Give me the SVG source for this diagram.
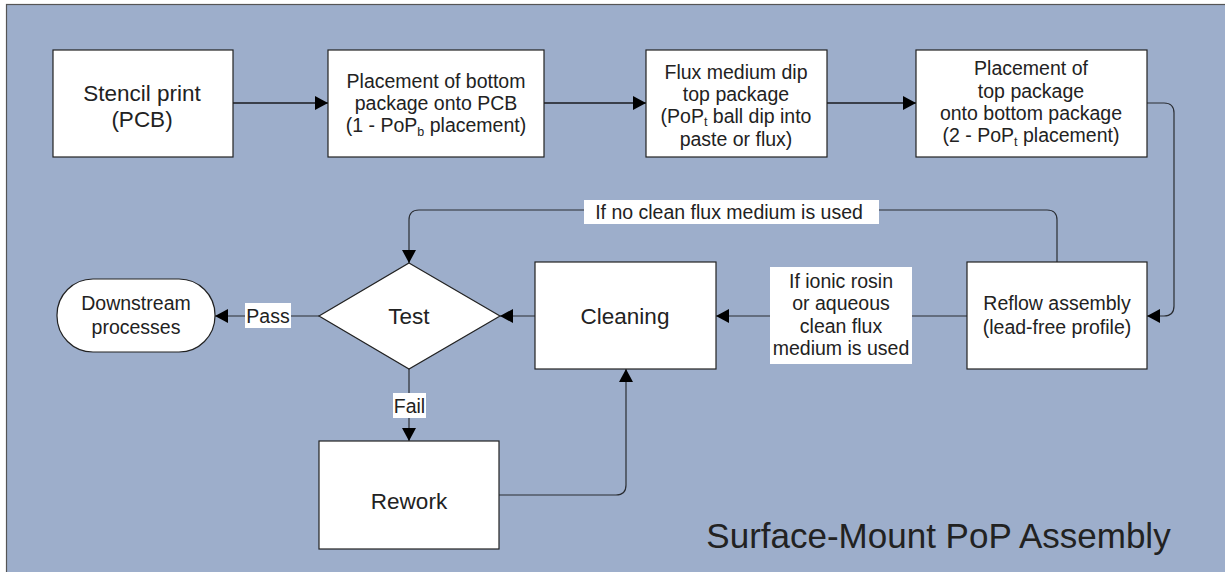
<svg xmlns="http://www.w3.org/2000/svg" width="1225" height="572" viewBox="0 0 1225 572">
<style>
.box{fill:#fff;stroke:#222;stroke-width:1.2}
.t{font-family:"Liberation Sans",Arial,sans-serif;fill:#222;text-anchor:middle}
.s{font-size:19.5px}
.m{font-size:22.5px}
.sub{font-size:12.5px}
.c{fill:none;stroke:#2a2d33;stroke-width:1.2}
.c2{fill:none;stroke:#3a3f4a;stroke-width:2}
.lbl{fill:#fff}
</style>
<defs>
<marker id="ah" markerUnits="userSpaceOnUse" markerWidth="14" markerHeight="14" viewBox="0 0 14 14" refX="13" refY="7" orient="auto">
<path d="M0,0 L13,7 L0,14 Z" fill="#000"/>
</marker>
</defs>
<rect x="0" y="0" width="1225" height="572" fill="#fff"/>
<rect x="6.5" y="4.5" width="1230" height="580" fill="#9daecb" stroke="#555" stroke-width="1.2"/>

<g id="connectors">
<path class="c2" d="M233,103 H328" marker-end="url(#ah)"/>
<path class="c2" d="M544,103 H646" marker-end="url(#ah)"/>
<path class="c2" d="M827,103 H916" marker-end="url(#ah)"/>
<path class="c" d="M1147,103 H1164 Q1174,103 1174,113 V306 Q1174,316 1164,316 H1147" marker-end="url(#ah)"/>
<path class="c" d="M967,316 H716" marker-end="url(#ah)"/>
<path class="c" d="M535,316 H500" marker-end="url(#ah)"/>
<path class="c" d="M1057,262 V220 Q1057,210 1047,210 H419 Q409,210 409,220 V263" marker-end="url(#ah)"/>
<path class="c" d="M319,316 H215" marker-end="url(#ah)"/>
<path class="c" d="M409,369 V441" marker-end="url(#ah)"/>
<path class="c" d="M499,495 H616 Q626,495 626,485 V369" marker-end="url(#ah)"/>
<g id="label-noclean">
<rect class="lbl" x="584" y="200" width="295" height="24"/>
<text class="t s" x="729" y="219">If no clean flux medium is used</text>
</g>
<g id="label-ionic">
<rect class="lbl" x="770" y="267" width="142" height="97"/>
<text class="t s" x="841" y="288">If ionic rosin</text>
<text class="t s" x="841" y="310">or aqueous</text>
<text class="t s" x="841" y="333">clean flux</text>
<text class="t s" x="841" y="355">medium is used</text>
</g>
<g id="label-pass">
<rect class="lbl" x="245" y="303" width="46" height="25"/>
<text class="t s" x="268" y="323">Pass</text>
</g>
<g id="label-fail">
<rect class="lbl" x="393" y="393" width="33" height="25"/>
<text class="t s" x="409.5" y="413">Fail</text>
</g>
</g>

<g id="stencil">
<rect class="box" x="53" y="50" width="180" height="107"/>
<text class="t m" x="142" y="101">Stencil print</text>
<text class="t m" x="142" y="126.5">(PCB)</text>
</g>
<g id="placement-bottom">
<rect class="box" x="328" y="50" width="216" height="107"/>
<text class="t s" x="436" y="88">Placement of bottom</text>
<text class="t s" x="436" y="110">package onto PCB</text>
<text class="t s" x="436" y="132">(1 - PoP<tspan class="sub" dy="3.5">b</tspan><tspan dy="-3.5"> placement)</tspan></text>
</g>
<g id="flux-dip">
<rect class="box" x="646" y="50" width="181" height="107"/>
<text class="t s" x="736" y="78.5">Flux medium dip</text>
<text class="t s" x="736" y="100.5">top package</text>
<text class="t s" x="736" y="122.5">(PoP<tspan class="sub" dy="3">t</tspan><tspan dy="-3"> ball dip into</tspan></text>
<text class="t s" x="736" y="146">paste or flux)</text>
</g>
<g id="placement-top">
<rect class="box" x="916" y="50" width="231" height="107"/>
<text class="t s" x="1031" y="75">Placement of</text>
<text class="t s" x="1031" y="98">top package</text>
<text class="t s" x="1031" y="120">onto bottom package</text>
<text class="t s" x="1031" y="142">(2 - PoP<tspan class="sub" dy="3.5">t</tspan><tspan dy="-3.5"> placement)</tspan></text>
</g>
<g id="reflow">
<rect class="box" x="967" y="262" width="180" height="107"/>
<text class="t s" x="1057" y="310">Reflow assembly</text>
<text class="t s" x="1057" y="334">(lead-free profile)</text>
</g>
<g id="cleaning">
<rect class="box" x="535" y="262" width="181" height="107"/>
<text class="t m" x="625" y="324">Cleaning</text>
</g>
<g id="test">
<polygon class="box" points="409,263 500,316 409,369 319,316"/>
<text class="t m" x="409" y="324">Test</text>
</g>
<g id="downstream">
<rect class="box" x="57" y="279" width="158" height="73" rx="36" ry="36"/>
<text class="t s" x="136" y="310">Downstream</text>
<text class="t s" x="136" y="334">processes</text>
</g>
<g id="rework">
<rect class="box" x="319" y="441" width="180" height="108"/>
<text class="t m" x="409" y="509">Rework</text>
</g>
<text class="t" x="938.5" y="548" font-size="35" fill="#222">Surface-Mount PoP Assembly</text>
</svg>
